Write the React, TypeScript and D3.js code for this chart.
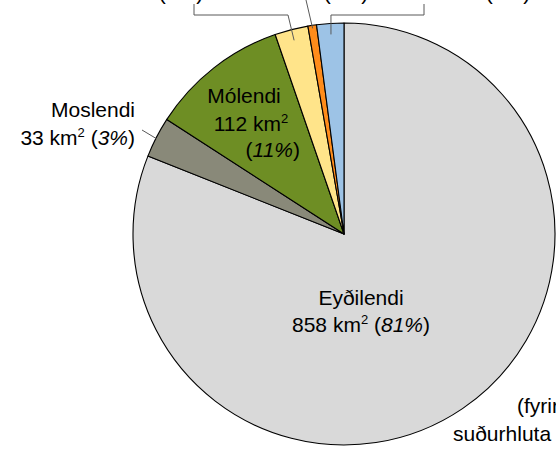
import React from "react";
import * as d3 from "d3";

const categories = ["Eyðilendi", "Moslendi", "Mólendi", "Ræktarland", "Byggð", "Vötn"];
const areas = [858, 33, 112, 27, 7, 22];
const colors = ["#d9d9d9", "#898979", "#6e8e24", "#ffe48a", "#ff8c1a", "#9dc3e6"];

const W = 556, H = 453;
const cx = 344, cy = 234, R = 211;
const FONT = "'Liberation Sans', Arial, sans-serif";

export default function App() {
  const total = d3.sum(areas);
  const data = categories.map((c, i) => ({ name: c, value: areas[i], color: colors[i] }));
  const pie = d3.pie<any>().value((d) => d.value).sort(null);
  const arcs = pie(data);
  const arc = d3.arc<any>().innerRadius(0).outerRadius(R);
  const pct = (v: number) => `${Math.round((v / total) * 100)}%`;
  const pt = (a: any, r: number) => {
    const m = (a.startAngle + a.endAngle) / 2;
    return [cx + r * Math.sin(m), cy - r * Math.cos(m)];
  };
  const [yx, yy] = pt(arcs[3], 200);
  const [ox, oy] = pt(arcs[4], 208);
  const [bx, by] = pt(arcs[5], 200);

  const txt = { fontFamily: FONT, fontSize: 21, fill: "#000" } as const;
  const sup = { fontSize: 13 } as const;

  const km = (d: any) => (
    <>
      {d.value} km<tspan dy={-8} style={sup}>2</tspan>
      <tspan dy={8}> </tspan>
    </>
  );

  return (
    <svg width={W} height={H} style={{ position: "absolute", left: 0, top: 0, background: "#fff" }}>
      <g transform={`translate(${cx},${cy})`}>
        {arcs.map((a, i) => (
          <path key={i} d={arc(a) as string} fill={a.data.color} stroke="#000" strokeWidth={1.1} strokeLinejoin="round" />
        ))}
      </g>
      {/* leader lines */}
      <g stroke="#595959" strokeWidth={1} fill="none">
        <polyline points={`194,4 194,15 288,15 ${yx},${yy}`} />
        <polyline points={`306,0 ${ox},${oy}`} />
        <polyline points={`424,4 424,15 ${bx},15 ${bx},${by}`} />
        <polyline points={`142,130 157,139`} />
      </g>
      {/* top labels (cut off at the top edge, as in the source) */}
      <text x={181} y={0} textAnchor="middle" style={txt}>(<tspan fontStyle="italic">{pct(areas[3])}</tspan>)</text>
      <text x={346} y={0} textAnchor="middle" style={txt}>(<tspan fontStyle="italic">{pct(areas[4])}</tspan>)</text>
      <text x={508} y={0} textAnchor="middle" style={txt}>(<tspan fontStyle="italic">{pct(areas[5])}</tspan>)</text>

      {/* Moslendi */}
      <text x={135} y={117} textAnchor="end" style={txt}>{categories[1]}</text>
      <text x={135} y={145} textAnchor="end" style={txt}>
        {km(data[1])}(<tspan fontStyle="italic">{pct(areas[1])}</tspan>)
      </text>

      {/* Mólendi */}
      <text x={244} y={103} textAnchor="middle" style={txt}>{categories[2]}</text>
      <text x={251} y={131} textAnchor="middle" style={txt}>{data[2].value} km<tspan dy={-8} style={sup}>2</tspan></text>
      <text x={300} y={157} textAnchor="end" style={txt}>(<tspan fontStyle="italic">{pct(areas[2])}</tspan>)</text>

      {/* Eyðilendi */}
      <text x={361} y={305} textAnchor="middle" style={txt}>{categories[0]}</text>
      <text x={361} y={332} textAnchor="middle" style={txt}>
        {km(data[0])}(<tspan fontStyle="italic">{pct(areas[0])}</tspan>)
      </text>

      {/* note (cut off at the right edge, as in the source) */}
      <text x={517} y={413} style={txt}>(fyrir allt svæðið</text>
      <text x={453} y={441} style={txt}>suðurhluta svæðisins)</text>
    </svg>
  );
}
